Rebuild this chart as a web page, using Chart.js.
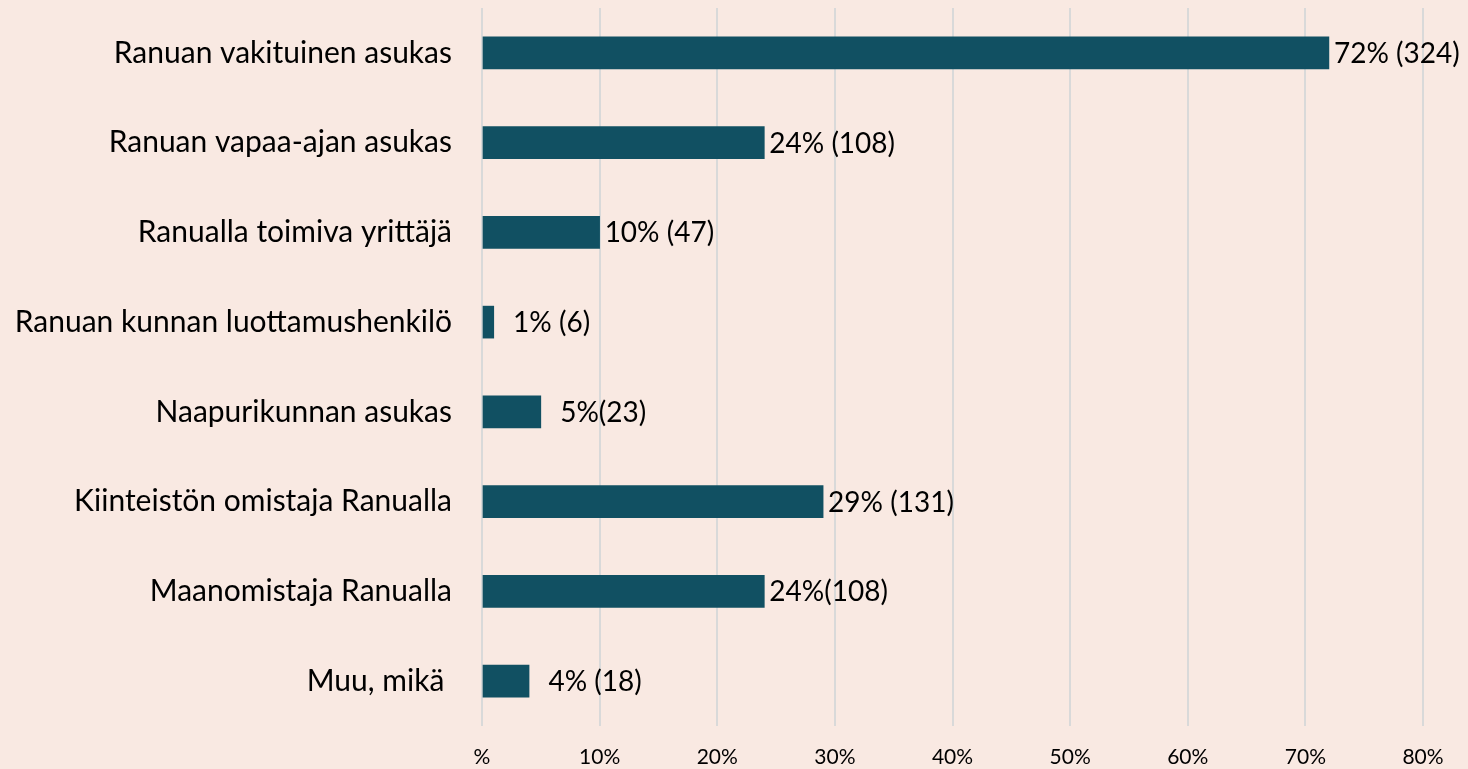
<!DOCTYPE html>
<html>
<head>
<meta charset="utf-8">
<script src="https://cdn.jsdelivr.net/npm/chart.js@4/dist/chart.umd.min.js"></script>
<style>
  html, body { margin: 0; padding: 0; background: #F9E9E2; }
  #wrap { width: 1468px; height: 769px; position: relative; }
</style>
</head>
<body>
<div id="wrap"><canvas id="c"></canvas></div>
<script>
const categories = [
  "Ranuan vakituinen asukas",
  "Ranuan vapaa-ajan asukas",
  "Ranualla toimiva yrittäjä",
  "Ranuan kunnan luottamushenkilö",
  "Naapurikunnan asukas",
  "Kiinteistön omistaja Ranualla",
  "Maanomistaja Ranualla",
  "Muu, mikä "
];
const percentValues = [72, 24, 10, 1, 5, 29, 24, 4];
const valueLabels = ["72% (324)", "24% (108)", "10% (47)", "  1% (6)", "  5%(23)", "29% (131)", "24%(108)", "  4% (18)"];
const xTickLabels = ["%", "10%", "20%", "30%", "40%", "50%", "60%", "70%", "80%"];

const FONT = "Lato, 'Open Sans', sans-serif";

const valueLabelPlugin = {
  id: 'valueLabels',
  afterDatasetsDraw(chart) {
    const ctx = chart.ctx;
    const meta = chart.getDatasetMeta(0);
    ctx.save();
    ctx.font = "28px " + FONT;
    ctx.fillStyle = "#000000";
    ctx.textAlign = "left";
    ctx.textBaseline = "middle";
    meta.data.forEach((bar, i) => {
      ctx.fillText(valueLabels[i], bar.x + 5, bar.y + 1);
    });
    ctx.restore();
  }
};

new Chart(document.getElementById('c'), {
  type: 'bar',
  data: {
    labels: categories,
    datasets: [{
      data: percentValues,
      backgroundColor: '#115062',
      borderWidth: 0,
      barThickness: 32
    }]
  },
  options: {
    indexAxis: 'y',
    responsive: true,
    maintainAspectRatio: false,
    animation: false,
    layout: { padding: { top: 8, right: 45, left: 0, bottom: 0 } },
    plugins: { legend: { display: false }, tooltip: { enabled: false } },
    scales: {
      x: {
        min: 0, max: 80,
        ticks: {
          stepSize: 10,
          color: '#000000',
          font: { family: FONT, size: 21 },
          padding: 19,
          maxRotation: 0,
          callback: (v, i) => xTickLabels[i]
        },
        grid: { color: '#D9D9D9', lineWidth: 2, drawTicks: false },
        border: { display: false },
        afterFit(scale) {
          scale.height = 43;
          scale.paddingLeft = 0; scale.paddingRight = 0;
        }
      },
      y: {
        ticks: {
          color: '#000000',
          font: { family: FONT, size: 30 },
          padding: 30,
          autoSkip: false
        },
        grid: { display: false, drawTicks: false },
        border: { display: false },
        afterFit(scale) {
          scale.width = 482;
          scale.paddingTop = 0; scale.paddingBottom = 0;
        }
      }
    }
  },
  plugins: [valueLabelPlugin]
});
</script>
</body>
</html>
